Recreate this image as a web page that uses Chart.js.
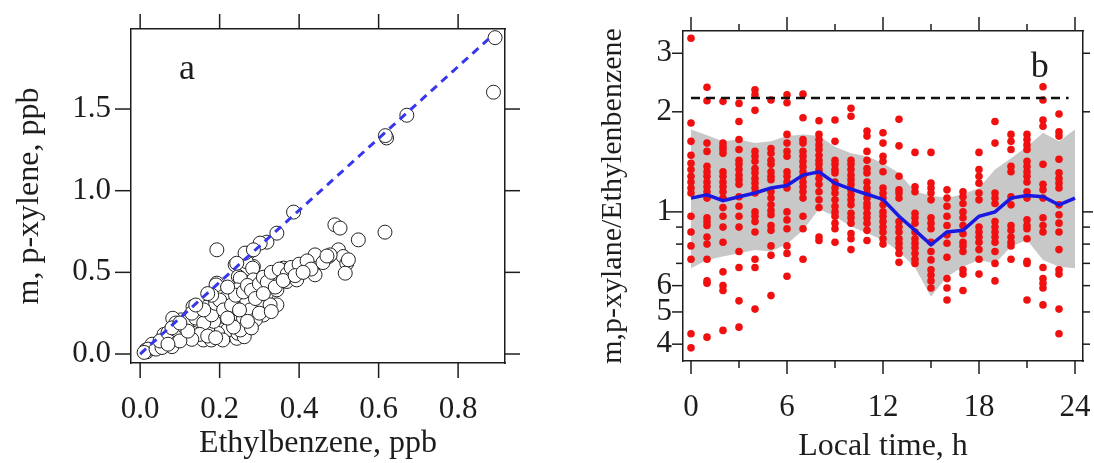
<!DOCTYPE html>
<html>
<head>
<meta charset="utf-8">
<script src="https://cdn.jsdelivr.net/npm/chart.js@4.4.1/dist/chart.umd.min.js"></script>
<style>
  body { margin: 0; background: #fff; }
  canvas { position: absolute; top: 0; }
  #chartA { left: 0; }
  #chartB { left: 547px; }
</style>
</head>
<body>
<canvas id="chartA" width="547" height="463"></canvas>
<canvas id="chartB" width="547" height="463"></canvas>
<script>
// ---- panel a: m,p-xylene vs ethylbenzene (ppb)
var ethyl = [0.893, 0.889, 0.671, 0.62, 0.617, 0.386, 0.344, 0.319, 0.302, 0.193, 0.272, 0.239, 0.285,
  0.49, 0.503, 0.616, 0.549, 0.499, 0.511, 0.52, 0.516, 0.474, 0.445, 0.419, 0.44, 0.361, 0.335, 0.369,
  0.394, 0.294, 0.193, 0.247, 0.319, 0.344, 0.344, 0.31, 0.264, 0.226, 0.189, 0.155, 0.176, 0.218, 0.256,
  0.268, 0.226, 0.201, 0.159, 0.13, 0.117, 0.096, 0.084, 0.08, 0.05, 0.034, 0.017, 0.143, 0.243, 0.184,
  0.267, 0.283, 0.262, 0.191, 0.292, 0.309, 0.22, 0.246, 0.267, 0.296, 0.17, 0.195, 0.22, 0.133, 0.153,
  0.124, 0.103, 0.082, 0.204, 0.229, 0.254, 0.279, 0.22, 0.246, 0.262, 0.195, 0.17, 0.145, 0.111, 0.086,
  0.061, 0.045, 0.028, 0.015, 0.107, 0.133, 0.179, 0.208, 0.264, 0.285, 0.243, 0.478, 0.524, 0.449, 0.44,
  0.394, 0.369, 0.361, 0.319, 0.302, 0.285, 0.264, 0.252, 0.243, 0.268, 0.302, 0.327, 0.31, 0.26, 0.252,
  0.277, 0.03, 0.06, 0.09, 0.02, 0.01, 0.065, 0.075, 0.04, 0.055, 0.29, 0.3, 0.33, 0.28, 0.235, 0.21, 0.185,
  0.05, 0.07, 0.09, 0.11, 0.12, 0.14, 0.16, 0.18, 0.19, 0.2, 0.21, 0.23, 0.24, 0.26, 0.27, 0.28, 0.3, 0.31,
  0.32, 0.33, 0.35, 0.37, 0.38, 0.4, 0.42, 0.43, 0.46, 0.47, 0.15, 0.17, 0.19, 0.13, 0.1, 0.07, 0.12, 0.22,
  0.25, 0.27, 0.29, 0.31, 0.34, 0.36, 0.39, 0.41, 0.08, 0.1, 0.13, 0.16, 0.18, 0.22, 0.14, 0.17];
var xylene = [1.937, 1.603, 1.462, 1.323, 1.337, 0.869, 0.74, 0.685, 0.679, 0.638, 0.618, 0.546, 0.536,
  0.791, 0.771, 0.746, 0.699, 0.638, 0.597, 0.556, 0.495, 0.597, 0.587, 0.536, 0.485, 0.526, 0.474, 0.444,
  0.454, 0.444, 0.434, 0.474, 0.372, 0.393, 0.301, 0.29, 0.331, 0.352, 0.29, 0.229, 0.26, 0.209, 0.239,
  0.147, 0.127, 0.106, 0.086, 0.147, 0.106, 0.086, 0.127, 0.045, 0.055, 0.035, 0.014, 0.188, 0.096, 0.168,
  0.566, 0.526, 0.444, 0.423, 0.444, 0.413, 0.352, 0.331, 0.331, 0.29, 0.29, 0.27, 0.28, 0.29, 0.229,
  0.229, 0.209, 0.219, 0.188, 0.209, 0.229, 0.27, 0.147, 0.127, 0.106, 0.127, 0.147, 0.168, 0.147, 0.127,
  0.106, 0.066, 0.045, 0.025, 0.106, 0.127, 0.086, 0.086, 0.618, 0.638, 0.556, 0.607, 0.577, 0.566, 0.607,
  0.515, 0.515, 0.454, 0.474, 0.454, 0.454, 0.413, 0.464, 0.393, 0.331, 0.29, 0.301, 0.239, 0.219, 0.147,
  0.27, 0.06, 0.12, 0.19, 0.03, 0.01, 0.07, 0.1, 0.03, 0.04, 0.21, 0.25, 0.26, 0.16, 0.165, 0.23, 0.2,
  0.08, 0.13, 0.15, 0.17, 0.2, 0.22, 0.19, 0.24, 0.31, 0.33, 0.27, 0.3, 0.36, 0.38, 0.42, 0.39, 0.43, 0.47,
  0.44, 0.5, 0.52, 0.49, 0.53, 0.55, 0.57, 0.52, 0.56, 0.6, 0.12, 0.11, 0.1, 0.09, 0.08, 0.06, 0.14, 0.22,
  0.27, 0.2, 0.34, 0.37, 0.41, 0.45, 0.48, 0.5, 0.16, 0.19, 0.25, 0.27, 0.36, 0.41, 0.3, 0.37];
var refLineX = [0, 0.88];
var refLineY = [0, 1.936];
var ethylTicks = [0, 0.2, 0.4, 0.6, 0.8];
var xyleneTicks = [0, 0.5, 1.0, 1.5];

// ---- panel b: ratio by local hour
var hours = [0, 1, 2, 3, 4, 5, 6, 7, 8, 9, 10, 11, 12, 13, 14, 15, 16, 17, 18, 19, 20, 21, 22, 23, 24];
var ratioByHour = [
  [3.33, 1.85, 1.63, 1.48, 1.40, 1.34, 1.28, 1.23, 1.18, 1.14, 0.97, 0.87, 0.79, 0.72, 0.43, 0.39],
  [2.37, 2.16, 1.61, 1.52, 1.37, 1.32, 1.28, 1.23, 1.19, 1.15, 1.10, 0.96, 0.935, 0.91, 0.84, 0.80, 0.72, 0.62, 0.61, 0.42],
  [2.15, 1.61, 1.57, 1.54, 1.50, 1.32, 1.28, 1.23, 1.19, 1.15, 1.10, 1.03, 0.97, 0.90, 0.81, 0.66, 0.60, 0.58, 0.44],
  [2.12, 1.87, 1.65, 1.54, 1.43, 1.39, 1.34, 1.29, 1.25, 1.21, 1.11, 1.04, 0.97, 0.90, 0.76, 0.68, 0.54, 0.45],
  [2.33, 2.25, 2.02, 1.52, 1.47, 1.42, 1.35, 1.31, 1.26, 1.22, 1.18, 1.14, 1.0, 0.97, 0.935, 0.87, 0.72, 0.68, 0.51],
  [2.17, 1.55, 1.50, 1.43, 1.39, 1.32, 1.28, 1.25, 1.15, 1.10, 1.05, 1.01, 0.98, 0.91, 0.88, 0.79, 0.74, 0.56],
  [2.25, 2.13, 1.71, 1.61, 1.52, 1.47, 1.32, 1.28, 1.23, 1.18, 1.0, 0.946, 0.89, 0.79, 0.75, 0.64],
  [2.26, 1.92, 1.65, 1.61, 1.52, 1.47, 1.42, 1.37, 1.32, 1.28, 1.23, 1.19, 1.15, 1.10, 0.97, 0.89, 0.72],
  [1.88, 1.71, 1.65, 1.59, 1.54, 1.48, 1.43, 1.39, 1.34, 1.31, 1.26, 1.21, 1.15, 1.087, 1.03, 0.84, 0.82],
  [1.89, 1.63, 1.43, 1.39, 1.34, 1.31, 1.23, 1.18, 1.14, 1.087, 1.04, 1.0, 0.97, 0.925, 0.89, 0.81],
  [2.05, 1.94, 1.43, 1.39, 1.34, 1.29, 1.25, 1.21, 1.165, 1.125, 1.087, 1.05, 0.99, 0.96, 0.925, 0.86, 0.83, 0.77],
  [1.75, 1.69, 1.52, 1.43, 1.35, 1.31, 1.23, 1.18, 1.14, 1.10, 1.06, 1.03, 0.99, 0.96, 0.925, 0.88, 0.82],
  [1.73, 1.61, 1.47, 1.42, 1.32, 1.18, 1.14, 1.10, 1.05, 1.0, 0.97, 0.935, 0.90, 0.87, 0.83, 0.80],
  [1.90, 1.58, 1.28, 1.165, 1.14, 1.10, 0.935, 0.90, 0.87, 0.83, 0.805, 0.78, 0.75, 0.705],
  [1.51, 1.19, 1.15, 0.99, 0.96, 0.925, 0.87, 0.83, 0.805, 0.78, 0.75, 0.72, 0.70],
  [1.51, 1.22, 1.18, 1.14, 1.087, 0.96, 0.925, 0.89, 0.81, 0.76, 0.717, 0.67, 0.646, 0.62, 0.59],
  [1.165, 1.10, 1.04, 0.97, 0.91, 0.853, 0.805, 0.73, 0.63, 0.59, 0.543],
  [1.15, 1.11, 1.06, 1.0, 0.96, 0.91, 0.86, 0.81, 0.79, 0.76, 0.67, 0.65, 0.58],
  [1.51, 1.34, 1.28, 1.22, 1.14, 1.087, 0.90, 0.87, 0.84, 0.81, 0.77, 0.72, 0.65],
  [1.87, 1.61, 1.14, 1.10, 1.06, 0.935, 0.90, 0.87, 0.84, 0.81, 0.76, 0.70, 0.62],
  [1.71, 1.63, 1.54, 1.37, 1.32, 1.11, 1.05, 0.91, 0.88, 0.84, 0.81, 0.79, 0.72],
  [1.71, 1.65, 1.59, 1.54, 1.42, 1.37, 1.32, 1.28, 1.23, 1.15, 1.10, 0.946, 0.91, 0.89, 0.83, 0.71, 0.70, 0.543],
  [2.38, 2.17, 1.89, 1.81, 1.39, 1.21, 1.165, 1.10, 0.96, 0.91, 0.87, 0.68, 0.63, 0.61, 0.59, 0.525],
  [1.97, 1.74, 1.69, 1.44, 1.31, 1.26, 1.22, 1.18, 1.05, 0.98, 0.925, 0.87, 0.77, 0.67, 0.65, 0.51, 0.43]
];
var meanRatio = [1.10, 1.125, 1.08, 1.11, 1.14, 1.18, 1.20, 1.29, 1.32, 1.22, 1.17, 1.13, 1.09, 0.97, 0.88,
  0.796, 0.87, 0.88, 0.97, 1.0, 1.10, 1.12, 1.11, 1.05, 1.10];
var bandHigh = [1.77, 1.70, 1.63, 1.65, 1.61, 1.63, 1.69, 1.71, 1.69, 1.57, 1.50, 1.47, 1.40, 1.31, 1.15,
  1.12, 1.10, 1.13, 1.18, 1.34, 1.45, 1.57, 1.73, 1.63, 1.77];
var bandLow = [0.677, 0.717, 0.734, 0.751, 0.768, 0.76, 0.80, 0.88, 1.02, 0.968, 0.903, 0.863, 0.823, 0.76,
  0.68, 0.556, 0.638, 0.684, 0.717, 0.70, 0.786, 0.823, 0.717, 0.684, 0.677];
var limitX = [0, 23.6];
var limitY = [2.2, 2.2];
var hourMajor = [0, 6, 12, 18, 24];
var hourMinor = [3, 9, 15, 21];
var ratioTicks = [0.4, 0.5, 0.6, 2, 3];
var ratioTickLabels = ['4', '5', '6', '2', '3'];
var ratioMajor = [1];
var ratioMinor = [0.7, 0.8, 0.9];

var ink = '#1d1d1d';
var serif = 'Liberation Serif';

function pts(xs, ys) {
  return xs.map(function (x, i) { return { x: x, y: ys[i] }; });
}

function fixSize(w, h) {
  return function (scale) {
    if (w !== null) scale.width = w;
    if (h !== null) scale.height = h;
    scale.paddingLeft = 0; scale.paddingRight = 0;
    scale.paddingTop = 0; scale.paddingBottom = 0;
  };
}

function useTicks(values) {
  return function (scale) {
    scale.ticks = values.map(function (v) { return { value: v }; });
  };
}

// tick marks drawn outside the box
var tickMarks = {
  id: 'tickMarks',
  afterDraw: function (chart, args, opts) {
    var ctx = chart.ctx;
    ctx.save();
    ctx.strokeStyle = ink;
    ctx.lineWidth = 1.5;
    opts.marks.forEach(function (m) {
      var s = chart.scales[m.scale];
      m.values.forEach(function (v) {
        var p = s.getPixelForValue(v);
        ctx.beginPath();
        if (m.side === 'bottom') { ctx.moveTo(p, s.top); ctx.lineTo(p, s.top + m.len); }
        else if (m.side === 'top') { ctx.moveTo(p, s.bottom); ctx.lineTo(p, s.bottom - m.len); }
        else if (m.side === 'left') { ctx.moveTo(s.right, p); ctx.lineTo(s.right - m.len, p); }
        else { ctx.moveTo(s.left, p); ctx.lineTo(s.left + m.len, p); }
        ctx.stroke();
      });
    });
    ctx.restore();
  }
};

var panelLetter = {
  id: 'panelLetter',
  afterDraw: function (chart, args, opts) {
    var ctx = chart.ctx;
    ctx.save();
    ctx.fillStyle = ink;
    ctx.font = '36px "' + serif + '"';
    ctx.textAlign = 'center';
    ctx.textBaseline = 'middle';
    ctx.fillText(opts.text, chart.scales.x.getPixelForValue(opts.x), chart.scales.y.getPixelForValue(opts.y));
    ctx.restore();
  }
};

var tickFont = { family: serif, size: 31 };
var titleFont = { family: serif, size: 32, lineHeight: 1.0 };
var border = { display: true, color: ink, width: 1.5 };

function sideAxis(position, min, max, w, h, type) {
  return {
    type: type || 'linear', position: position, min: min, max: max,
    ticks: { display: false },
    grid: { display: false, drawTicks: false },
    border: border,
    afterFit: fixSize(w, h)
  };
}

// ---- chart a
new Chart(document.getElementById('chartA').getContext('2d'), {
  type: 'scatter',
  data: {
    datasets: [{
      label: 'samples',
      data: pts(ethyl, xylene),
      pointRadius: 7,
      pointBorderWidth: 1,
      borderColor: '#222',
      backgroundColor: '#fff',
      order: 2
    }, {
      type: 'line',
      label: 'slope',
      data: pts(refLineX, refLineY),
      borderColor: 'rgb(55,55,235)',
      borderWidth: 3,
      borderDash: [8, 6],
      pointRadius: 0,
      fill: false,
      order: 1
    }]
  },
  options: {
    responsive: false,
    animation: false,
    events: [],
    plugins: {
      legend: { display: false },
      tooltip: { enabled: false },
      tickMarks: {
        marks: [
          { scale: 'x', side: 'bottom', values: ethylTicks, len: 15 },
          { scale: 'xTop', side: 'top', values: ethylTicks, len: 15 },
          { scale: 'y', side: 'left', values: xyleneTicks, len: 16 },
          { scale: 'yRight', side: 'right', values: xyleneTicks, len: 15 }
        ]
      },
      panelLetter: { text: 'a', x: 0.118, y: 1.74 }
    },
    scales: {
      x: {
        type: 'linear', position: 'bottom', min: -0.023, max: 0.918,
        afterBuildTicks: useTicks(ethylTicks),
        ticks: { callback: function (v) { return v.toFixed(1); }, font: tickFont, color: ink, padding: 28, autoSkip: false, maxRotation: 0 },
        grid: { display: false, drawTicks: false },
        border: border,
        title: { display: true, text: 'Ethylbenzene, ppb', font: titleFont, color: ink, padding: { top: 0, bottom: 3 } },
        afterFit: fixSize(null, 100)
      },
      xTop: sideAxis('top', -0.023, 0.918, null, 29),
      y: {
        type: 'linear', position: 'left', min: -0.055, max: 1.99,
        afterBuildTicks: useTicks(xyleneTicks),
        ticks: { callback: function (v) { return v.toFixed(1); }, font: tickFont, color: ink, padding: 20, autoSkip: false },
        grid: { display: false, drawTicks: false },
        border: border,
        title: { display: true, text: 'm, p-xylene, ppb', font: titleFont, color: ink, padding: { top: 14, bottom: 0 } },
        afterFit: fixSize(131, null)
      },
      yRight: sideAxis('right', -0.055, 1.99, 42, null)
    }
  },
  plugins: [tickMarks, panelLetter]
});

// ---- chart b
var dots = [];
ratioByHour.forEach(function (vals, h) {
  vals.forEach(function (v) { dots.push({ x: hours[h], y: v }); });
});

new Chart(document.getElementById('chartB').getContext('2d'), {
  type: 'scatter',
  data: {
    datasets: [{
      type: 'line', label: 'low', data: pts(hours, bandLow),
      borderColor: 'rgba(0,0,0,0)', pointRadius: 0, fill: false, order: 6
    }, {
      type: 'line', label: 'high', data: pts(hours, bandHigh),
      borderColor: 'rgba(0,0,0,0)', backgroundColor: 'rgb(200,200,200)', pointRadius: 0, fill: '-1', order: 5
    }, {
      label: 'ratio', data: dots,
      pointRadius: 3.8, pointBorderWidth: 0, backgroundColor: 'rgb(240,16,16)', borderColor: 'rgb(240,16,16)', order: 3
    }, {
      type: 'line', label: 'mean', data: pts(hours, meanRatio),
      borderColor: 'rgb(25,25,225)', borderWidth: 3.5, pointRadius: 0, fill: false, tension: 0, order: 2
    }, {
      type: 'line', label: 'limit', data: pts(limitX, limitY),
      borderColor: '#111', borderWidth: 2.5, borderDash: [9, 6], pointRadius: 0, fill: false, order: 1
    }]
  },
  options: {
    responsive: false,
    animation: false,
    events: [],
    plugins: {
      legend: { display: false },
      tooltip: { enabled: false },
      tickMarks: {
        marks: [
          { scale: 'x', side: 'bottom', values: hourMajor, len: 13 },
          { scale: 'x', side: 'bottom', values: hourMinor, len: 7 },
          { scale: 'xTop', side: 'top', values: hourMajor, len: 14 },
          { scale: 'xTop', side: 'top', values: hourMinor, len: 7 },
          { scale: 'y', side: 'left', values: ratioTicks, len: 11 },
          { scale: 'y', side: 'left', values: ratioMajor, len: 17 },
          { scale: 'y', side: 'left', values: ratioMinor, len: 7 },
          { scale: 'yRight', side: 'right', values: ratioTicks, len: 7 },
          { scale: 'yRight', side: 'right', values: ratioMajor, len: 10 },
          { scale: 'yRight', side: 'right', values: ratioMinor, len: 7 }
        ]
      },
      panelLetter: { text: 'b', x: 21.8, y: 2.71 }
    },
    scales: {
      x: {
        type: 'linear', position: 'bottom', min: -0.5, max: 24.5,
        afterBuildTicks: useTicks(hourMajor),
        ticks: { font: tickFont, color: ink, padding: 28, autoSkip: false, maxRotation: 0 },
        grid: { display: false, drawTicks: false },
        border: border,
        title: { display: true, text: 'Local time, h', font: titleFont, color: ink, padding: { top: 0, bottom: 0 } },
        afterFit: fixSize(null, 102)
      },
      xTop: sideAxis('top', -0.5, 24.5, null, 31),
      y: {
        type: 'logarithmic', position: 'left', min: 0.356, max: 3.5,
        afterBuildTicks: useTicks(ratioTicks.concat(ratioMajor)),
        ticks: {
          callback: function (v, i) { return i < ratioTickLabels.length ? ratioTickLabels[i] : '1'; },
          font: tickFont, color: ink, padding: 11, autoSkip: false
        },
        grid: { display: false, drawTicks: false },
        border: border,
        title: { display: true, text: 'm,p-xylane/Ethylenbenzene', font: { family: serif, size: 30, lineHeight: 1.0 }, color: ink, padding: { top: 51, bottom: 0 } },
        afterFit: fixSize(136, null)
      },
      yRight: sideAxis('right', 0.356, 3.5, 11, null, 'logarithmic')
    }
  },
  plugins: [tickMarks, panelLetter]
});
</script>
</body>
</html>
